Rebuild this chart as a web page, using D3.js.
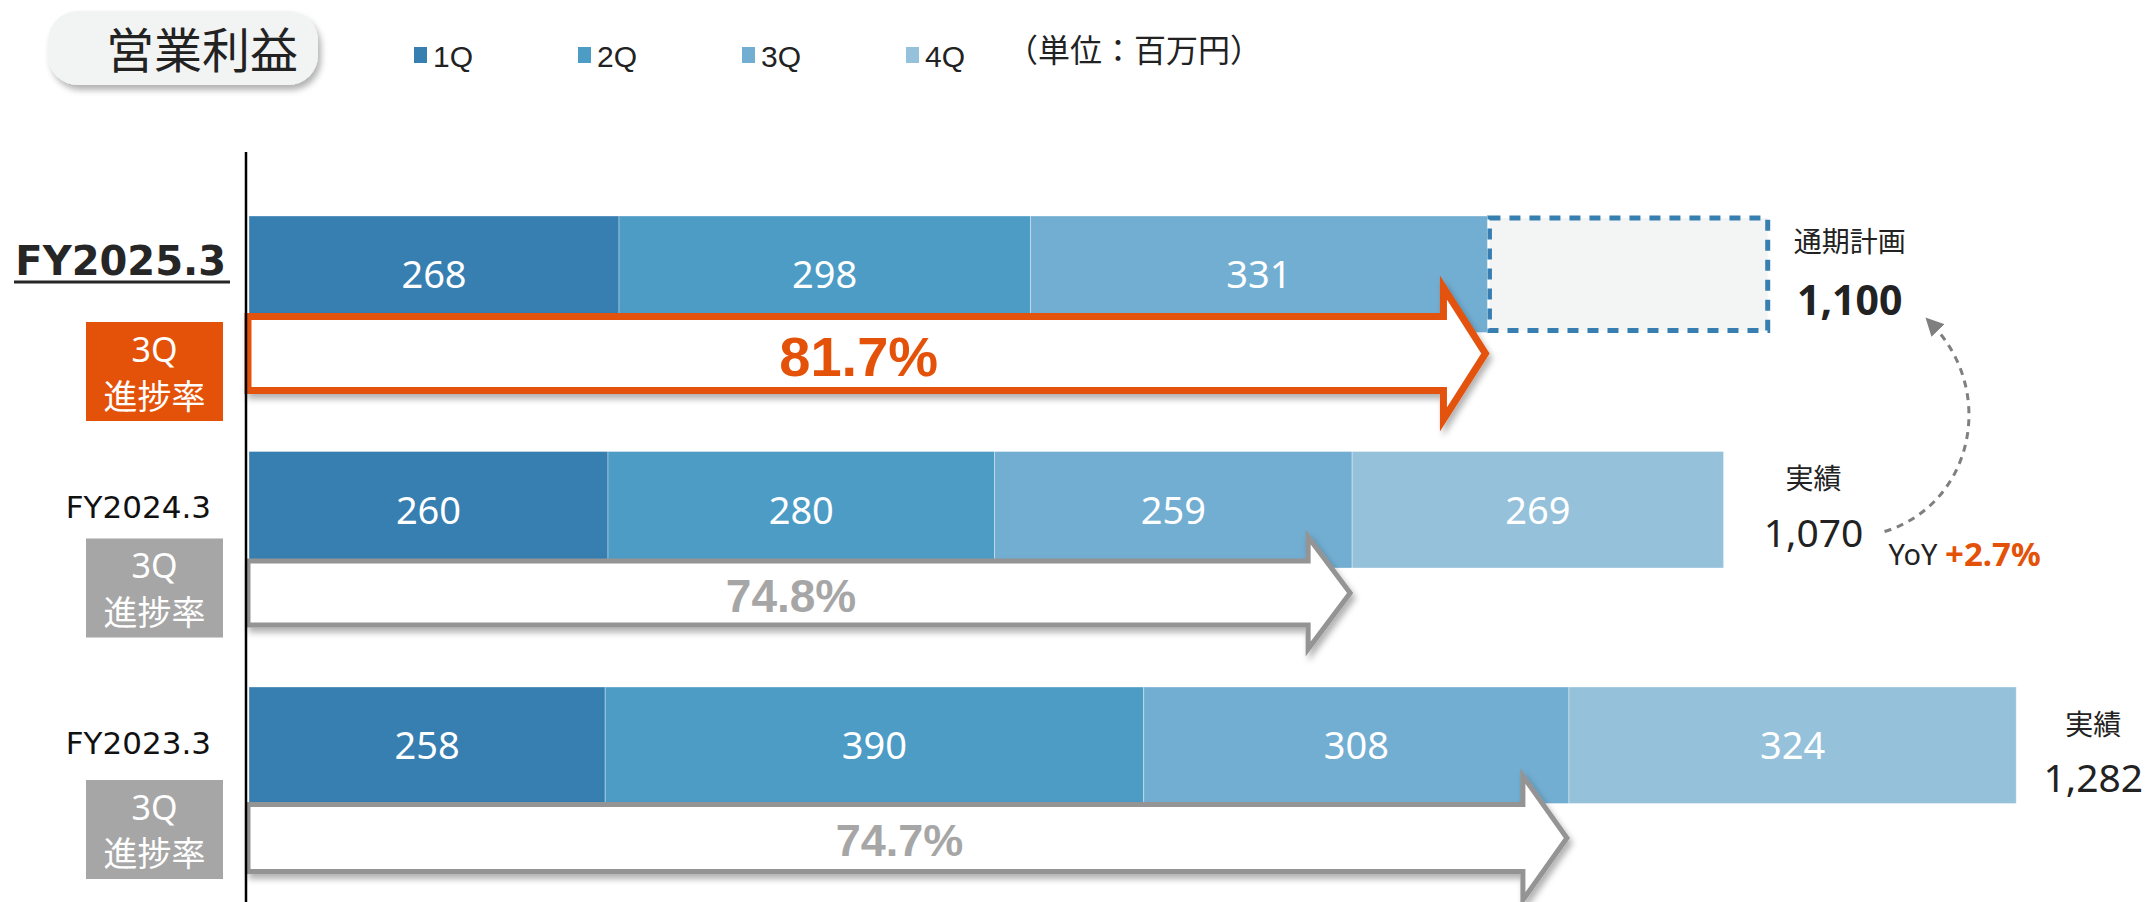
<!DOCTYPE html>
<html>
<head>
<meta charset="utf-8">
<script src="https://cdn.jsdelivr.net/npm/d3@7"></script>
<style>
  body { margin: 0; background: #fff; }
  text { font-family: "Noto Sans", "Noto Sans CJK JP", sans-serif; }
</style>
</head>
<body>
<div class="container"></div>
<script>
const years = ['FY2025.3', 'FY2024.3', 'FY2023.3'];
const quarters = ['1Q', '2Q', '3Q', '4Q'];
const q1 = [268, 260, 258];
const q2 = [298, 280, 390];
const q3 = [331, 259, 308];
const q4 = [0, 269, 324];
const planValue = 1100;
const progressLabels = ['81.7%', '74.8%', '74.7%'];
const totalTitles = ['通期計画', '実績', '実績'];
const totalLabels = ['1,100', '1,070', '1,282'];
const yoyLabels = ['YoY', '+2.7%'];

const w = 2152;
const h = 902;
const colors = ['#377eb1', '#4c9cc6', '#72aed2', '#95c1db'];
const orange = '#e4520a';
const gray = '#a6a6a6';

// per-row layout (offsets from bar top)
const rowStyle = [
    { stroke: orange, sw: 7, cy: 137.5, bh: 37, hh: 66, hl: 42, font: 56, txt: orange, box: orange, boxDy: 106, labelDy: 45, tdx: 82, t1: 24, t2: 83 },
    { stroke: '#949494', sw: 5, cy: 141.5, bh: 32, hh: 56, hl: 42, font: 46, txt: gray, box: gray, boxDy: 87, labelDy: 56, tdx: 90, t1: 26, t2: 80 },
    { stroke: '#949494', sw: 5, cy: 151, bh: 33.5, hh: 62, hl: 44, font: 45, txt: gray, box: gray, boxDy: 93, labelDy: 56, tdx: 77, t1: 36, t2: 90 }
];

const table = years.map((y, i) => ({ year: y, '1Q': q1[i], '2Q': q2[i], '3Q': q3[i], '4Q': q4[i] }));
const series = d3.stack().keys(quarters)(table);

const x = d3.scaleLinear().domain([0, 1282]).range([249, 2019]);
const y = d3.scaleBand().domain(years).range([216, 803.5]).paddingInner(0.5053).paddingOuter(0);
const bw = y.bandwidth();

const svg = d3.select('.container')
    .append('svg')
    .attr('width', w)
    .attr('height', h)
    .attr('viewBox', [0, 0, w, h]);

const defs = svg.append('defs');
defs.append('filter').attr('id', 'shadow')
    .attr('x', '-10%').attr('y', '-30%').attr('width', '120%').attr('height', '170%')
    .append('feDropShadow')
    .attr('dx', 3).attr('dy', 5).attr('stdDeviation', 3)
    .attr('flood-color', '#000').attr('flood-opacity', 0.3);
defs.append('marker').attr('id', 'head')
    .attr('viewBox', '0 0 10 10').attr('refX', 5).attr('refY', 5)
    .attr('markerWidth', 6).attr('markerHeight', 6)
    .attr('orient', 'auto')
    .append('path').attr('d', 'M0,0 L10,5 L0,10 z').attr('fill', '#7f7f7f');

// title pill
svg.append('rect')
    .attr('x', 48).attr('y', 11).attr('width', 270).attr('height', 74).attr('rx', 30)
    .attr('fill', '#f2f3f3')
    .attr('filter', 'url(#shadow)');
svg.append('text')
    .attr('x', 202).attr('y', 47)
    .attr('text-anchor', 'middle').attr('dominant-baseline', 'central')
    .style('font-family', '"Noto Sans CJK JP"')
    .style('font-size', '48px').attr('fill', '#222')
    .text('営業利益');

// legend
const legend = svg.append('g').selectAll('g')
    .data(quarters)
    .join('g')
    .attr('transform', (d, i) => `translate(${414 + i * 164}, 55)`);
legend.append('rect')
    .attr('x', 0).attr('y', -8).attr('width', 13).attr('height', 16)
    .attr('fill', (d, i) => colors[i]);
legend.append('text')
    .attr('x', 19).attr('y', 1)
    .attr('dominant-baseline', 'central')
    .style('font-family', '"Liberation Sans", Arial')
    .style('font-size', '30px').attr('fill', '#222')
    .text(d => d);
svg.append('text')
    .attr('x', 1006).attr('y', 48)
    .attr('dominant-baseline', 'central')
    .style('font-family', '"Noto Sans CJK JP"')
    .style('font-size', '32px').attr('fill', '#222')
    .text('（単位：百万円）');

// plan box for current year
const cum3 = years.map((d, i) => q1[i] + q2[i] + q3[i]);
svg.append('rect')
    .attr('x', x(cum3[0]) + 2).attr('y', y(years[0]) + 2)
    .attr('width', x(planValue) - x(cum3[0]) - 2).attr('height', bw - 4)
    .attr('fill', '#f3f4f4')
    .attr('stroke', colors[0]).attr('stroke-width', 5)
    .attr('stroke-dasharray', '11 9');

// stacked bars
svg.append('g')
    .selectAll('g')
    .data(series)
    .join('g')
    .attr('fill', (d, i) => colors[i])
    .selectAll('rect')
    .data(d => d.filter(s => s[1] > s[0]))
    .join('rect')
    .attr('x', d => x(d[0]))
    .attr('y', d => y(d.data.year))
    .attr('width', d => x(d[1]) - x(d[0]))
    .attr('height', bw)
    .attr('stroke', 'rgba(255,255,255,0.35)')
    .attr('stroke-width', 1);

svg.append('g')
    .selectAll('g')
    .data(series)
    .join('g')
    .selectAll('text')
    .data(d => d.filter(s => s[1] > s[0]))
    .join('text')
    .attr('x', d => (x(d[0]) + x(d[1])) / 2)
    .attr('y', d => y(d.data.year) + bw / 2 - 1)
    .attr('text-anchor', 'middle').attr('dominant-baseline', 'central')
    .style('font-size', '38px').attr('fill', '#fff')
    .text(d => d[1] - d[0]);

// progress arrows
function arrowPath(x0, x1, cy, bh, hh, hl) {
    return `M${x0},${cy - bh}L${x1 - hl},${cy - bh}L${x1 - hl},${cy - hh}L${x1},${cy}` +
        `L${x1 - hl},${cy + hh}L${x1 - hl},${cy + bh}L${x0},${cy + bh}Z`;
}
years.forEach((yr, i) => {
    const s = rowStyle[i];
    const top = y(yr);
    const x0 = x(0) - 1;
    const x1 = x(cum3[i]) - 2;
    svg.append('path')
        .attr('d', arrowPath(x0, x1, top + s.cy, s.bh, s.hh, s.hl))
        .attr('fill', '#fff')
        .attr('stroke', s.stroke).attr('stroke-width', s.sw)
        .attr('stroke-linejoin', 'miter')
        .attr('filter', 'url(#shadow)');
    svg.append('text')
        .attr('x', (x0 + x1) / 2 - 8)
        .attr('y', top + s.cy + 3)
        .attr('text-anchor', 'middle').attr('dominant-baseline', 'central')
        .style('font-family', '"Liberation Sans", Arial')
        .style('font-weight', 'bold')
        .style('font-size', s.font + 'px').attr('fill', s.txt)
        .text(progressLabels[i]);

    // left labels
    const bold = i === 0;
    svg.append('text')
        .attr('x', bold ? 226 : 211)
        .attr('y', top + s.labelDy)
        .attr('text-anchor', 'end').attr('dominant-baseline', 'central')
        .style('font-family', '"DejaVu Sans", Verdana')
        .style('font-weight', bold ? 'bold' : 'normal')
        .style('font-size', bold ? '40px' : '31px')
        .attr('fill', bold ? '#262626' : '#111')
        .text(yr);
    if (bold) {
        svg.append('line')
            .attr('x1', 14).attr('x2', 230)
            .attr('y1', top + 66).attr('y2', top + 66)
            .attr('stroke', '#262626').attr('stroke-width', 3);
    }
    const by = top + s.boxDy;
    svg.append('rect')
        .attr('x', 86).attr('y', by).attr('width', 137).attr('height', 99)
        .attr('fill', s.box);
    svg.append('text')
        .attr('x', 154.5).attr('y', by + 27)
        .attr('text-anchor', 'middle').attr('dominant-baseline', 'central')
        .style('font-size', '34px').attr('fill', '#fff')
        .text('3Q');
    svg.append('text')
        .attr('x', 154.5).attr('y', by + 72)
        .attr('text-anchor', 'middle').attr('dominant-baseline', 'central')
        .style('font-family', '"Noto Sans CJK JP"')
        .style('font-size', '34px').attr('fill', '#fff')
        .text('進捗率');

    // right labels
    const endX = i === 0 ? x(planValue) : x(cum3[i] + q4[i]);
    const cx = endX + s.tdx;
    svg.append('text')
        .attr('x', cx).attr('y', top + s.t1)
        .attr('text-anchor', 'middle').attr('dominant-baseline', 'central')
        .style('font-family', '"Noto Sans CJK JP"')
        .style('font-size', '28px').attr('fill', '#222')
        .text(totalTitles[i]);
    svg.append('text')
        .attr('x', cx).attr('y', top + s.t2)
        .attr('text-anchor', 'middle').attr('dominant-baseline', 'central')
        .style('font-weight', bold ? 'bold' : 'normal')
        .style('font-size', bold ? '41px' : '39px').attr('fill', '#222')
        .text(totalLabels[i]);
});

// YoY annotation
const yoyTop = y(years[1]);
const yoyX = x(cum3[1] + q4[1]) + 165;
const yoy = svg.append('text')
    .attr('x', yoyX).attr('y', yoyTop + 102)
    .attr('dominant-baseline', 'central')
    .style('font-size', '29px').attr('fill', '#222');
yoy.append('tspan').text(yoyLabels[0] + ' ');
yoy.append('tspan').attr('fill', orange).style('font-weight', 'bold').style('font-size', '33px').text(yoyLabels[1]);

const sx = yoyX - 4, sy = yoyTop + 80;
const ex = x(planValue) + 164, ey = y(years[0]) + 108;
svg.append('path')
    .attr('d', `M${sx},${sy}C${sx + 88},${sy - 27} ${sx + 113},${ey + 68} ${ex},${ey}`)
    .attr('fill', 'none')
    .attr('stroke', '#7f7f7f').attr('stroke-width', 3)
    .attr('stroke-dasharray', '7 6')
    .attr('marker-end', 'url(#head)');

// vertical axis
svg.append('line')
    .attr('x1', x(0) - 3).attr('x2', x(0) - 3)
    .attr('y1', 152).attr('y2', h)
    .attr('stroke', '#000').attr('stroke-width', 2.5);
</script>
</body>
</html>
